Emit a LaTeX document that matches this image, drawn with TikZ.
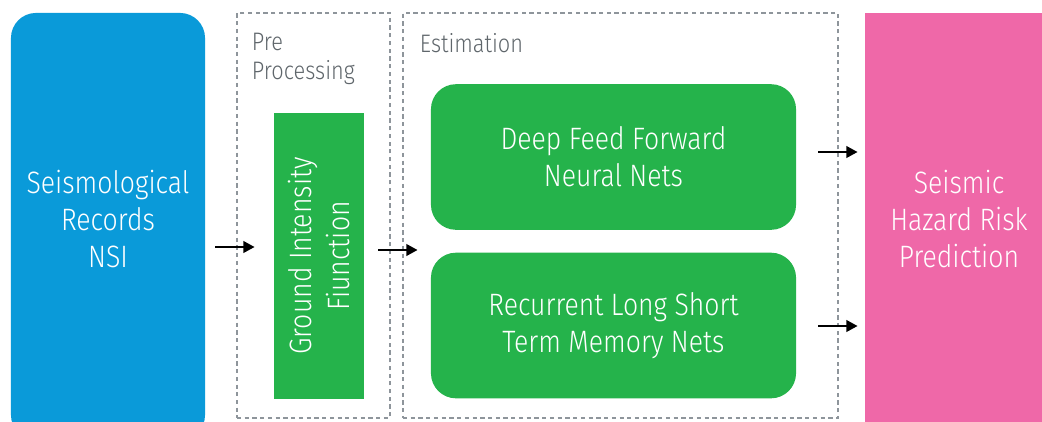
\documentclass[tikz,border=0pt]{standalone}
\usepackage{fontspec}
\setmainfont{Fira Sans}[UprightFont=* Light, FakeStretch=0.86]
\usetikzlibrary{arrows.meta}

\definecolor{nsiblue}{HTML}{0A9AD9}
\definecolor{netgreen}{HTML}{25B34B}
\definecolor{riskpink}{HTML}{EF68A8}
\definecolor{stagegray}{HTML}{5F666B}
\definecolor{dashgray}{HTML}{8E959B}

\tikzset{
    panel/.style={inner sep=0pt, draw=none},
    stagebox/.style={panel, draw=dashgray, dash pattern=on 3pt off 2.5pt, line width=0.8pt},
    netbox/.style={panel, fill=netgreen, rounded corners=0.625cm,
        minimum width=9.125cm, minimum height=3.64cm},
    boxtext/.style={text=white, align=center, font=\fontsize{22}{26.5}\selectfont},
    stagetext/.style={text=stagegray, align=left, anchor=north west,
        font=\fontsize{18}{20.5}\selectfont},
    arr/.style={-{Triangle[length=8pt,width=8pt]}, line width=2pt, black},
}

\begin{document}
\begin{tikzpicture}[x=0.025cm, y=-0.025cm]

    \useasboundingbox (0,0) rectangle (1042,422);
    \clip (0,0) rectangle (1042,422);

    % input and output columns
    \node[panel, fill=nsiblue, rounded corners=0.625cm,
        minimum width=4.85cm, minimum height=10.675cm] (nsi) at (108,226.5) {};
    \node[panel, fill=riskpink,
        minimum width=4.875cm, minimum height=10.675cm] (risk) at (962.5,226.5) {};
    \node[boxtext] (nsitext) at (108,219) {Seismological\\Records\\NSI};
    \node[boxtext] (risktext) at (959,219) {Seismic\\Hazard Risk\\Prediction};

    % dashed stages
    \node[stagebox, minimum width=3.825cm, minimum height=10.125cm] (pre) at (313.5,215.5) {};
    \node[stagebox, minimum width=10.875cm, minimum height=10.125cm] (est) at (620.5,215.5) {};
    \node[stagetext] (pretext) at (247,28) {Pre\\Processing};
    \node[stagetext] (esttext) at (415,28) {Estimation};

    % green blocks
    \node[panel, fill=netgreen, minimum width=7.15cm, minimum height=2.25cm,
        rotate=90, boxtext] (gic) at (319,256) {Ground Intensity\\Fiunction};
    \node[netbox, boxtext] (dff) at (613.5,157) {Deep Feed Forward\\Neural Nets};
    \node[netbox, boxtext] (lstm) at (613.5,325.5) {Recurrent Long Short\\Term Memory Nets};

    % arrows
    \coordinate (r1) at (0,247);
    \coordinate (r2) at (0,250);
    \coordinate (r3) at (0,152);
    \coordinate (r4) at (0,326);
    \draw[arr, shorten <=0.25cm, shorten >=0.475cm] (nsi.east |- r1) -- (gic.north |- r1);
    \draw[arr, shorten <=0.35cm, shorten >=0.325cm] (gic.south |- r2) -- (lstm.west |- r2);
    \draw[arr, shorten <=0.55cm, shorten >=0.175cm] (dff.east |- r3) -- (risk.west |- r3);
    \draw[arr, shorten <=0.55cm, shorten >=0.175cm] (lstm.east |- r4) -- (risk.west |- r4);

\end{tikzpicture}
\end{document}
